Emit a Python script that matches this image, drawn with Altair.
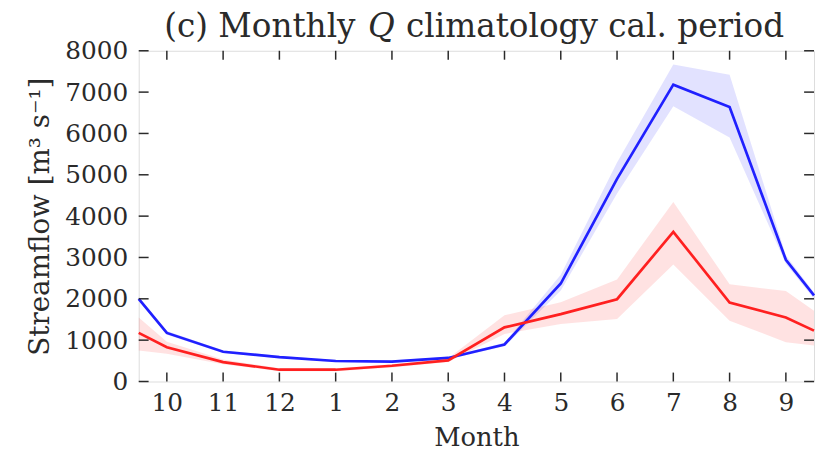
import json
import altair as alt
import pandas as pd

# ---- data ----
month_labels = ["10", "11", "12", "1", "2", "3", "4", "5", "6", "7", "8", "9"]
x_pos = [-0.5, 0, 1, 2, 3, 4, 5, 6, 7, 8, 9, 10, 11, 11.5]

blue_mean = [2000, 1175, 720, 590, 495, 480, 570, 895, 2370, 4900, 7180, 6640, 2945, 2080]
blue_low = [1960, 1130, 690, 560, 470, 455, 540, 850, 2200, 4550, 6660, 5900, 2850, 2000]
blue_high = [2050, 1220, 750, 620, 520, 505, 600, 940, 2580, 5300, 7670, 7420, 3050, 2150]

red_mean = [1175, 830, 470, 285, 285, 380, 510, 1310, 1630, 1990, 3620, 1910, 1550, 1230]
red_low = [750, 670, 420, 250, 250, 340, 470, 1150, 1390, 1510, 2830, 1470, 950, 870]
red_high = [1550, 960, 530, 320, 320, 420, 560, 1600, 1915, 2470, 4340, 2350, 2190, 1710]

y_ticks = [0, 1000, 2000, 3000, 4000, 5000, 6000, 7000, 8000]
x_ticks = list(range(12))

title_left = "(c) Monthly"
title_q = "Q"
title_right = "climatology cal. period"

W, H = 682, 334
FONT = "DejaVu Serif"
INK = "#2a2a2a"

rows = []
for name, m, lo, hi in [("blue", blue_mean, blue_low, blue_high),
                        ("red", red_mean, red_low, red_high)]:
    for x, a, b, c in zip(x_pos, m, lo, hi):
        rows.append({"x": x, "mean": a, "low": b, "high": c, "series": name})
df = pd.DataFrame(rows)

color = alt.Color("series:N", scale=alt.Scale(domain=["blue", "red"], range=["#2020ff", "#ff2020"]), legend=None)

label_expr = json.dumps(month_labels) + "[datum.value]"

xenc = alt.X("x:Q", scale=alt.Scale(domain=[-0.5, 11.5], nice=False, zero=False),
             axis=alt.Axis(values=x_ticks, labelExpr=label_expr, ticks=False, domain=False, grid=False,
                           labelPadding=9, labelFontSize=25, labelFont=FONT, labelColor=INK,
                           title="Month", titleFont=FONT, titleFontSize=26, titleFontWeight="normal",
                           titleColor=INK, titlePadding=10))
yenc_axis = alt.Axis(values=y_ticks, format="d", ticks=False, domain=False, grid=False, labelPadding=11,
                     labelFontSize=25, labelFont=FONT, labelColor=INK,
                     title="Streamflow [m³ s⁻¹]", titleFont=FONT, titleFontSize=28,
                     titleFontWeight="normal", titleColor=INK, titlePadding=10)

base = alt.Chart(df)
bands = base.mark_area(opacity=0.13).encode(
    x=xenc,
    y=alt.Y("low:Q", scale=alt.Scale(domain=[0, 8000], nice=False), axis=yenc_axis),
    y2="high:Q",
    color=color,
)
lines = base.mark_line(strokeWidth=2.7).encode(
    x="x:Q", y="mean:Q", color=color
)

ydf = pd.DataFrame({"v": y_ticks})
xdf = pd.DataFrame({"v": x_ticks})
tl = 10
left_t = alt.Chart(ydf).mark_rule(color=INK, strokeWidth=1.5).encode(
    y="v:Q", x=alt.value(0), x2=alt.value(tl))
right_t = alt.Chart(ydf).mark_rule(color=INK, strokeWidth=1.5).encode(
    y="v:Q", x=alt.value(W - tl), x2=alt.value(W))
bot_t = alt.Chart(xdf).mark_rule(color=INK, strokeWidth=1.5).encode(
    x="v:Q", y=alt.value(H - 9), y2=alt.value(H))
top_t = alt.Chart(xdf).mark_rule(color=INK, strokeWidth=1.5).encode(
    x="v:Q", y=alt.value(0), y2=alt.value(9))

TFS = 33
t1 = alt.Chart(pd.DataFrame({"t": [title_left]})).mark_text(
    font=FONT, fontSize=TFS, align="right", baseline="alphabetic",
    color=INK).encode(text="t:N", x=alt.value(219), y=alt.value(-14))
t2 = alt.Chart(pd.DataFrame({"t": [title_q]})).mark_text(
    font=FONT, fontSize=TFS, fontStyle="italic", align="center", baseline="alphabetic",
    color=INK).encode(text="t:N", x=alt.value(245), y=alt.value(-14))
t3 = alt.Chart(pd.DataFrame({"t": [title_right]})).mark_text(
    font=FONT, fontSize=TFS, align="left", baseline="alphabetic",
    color=INK).encode(text="t:N", x=alt.value(270), y=alt.value(-14))

chart = alt.layer(bands, lines, left_t, right_t, bot_t, top_t, t1, t2, t3).properties(
    width=W, height=H,
    autosize=alt.AutoSizeParams(type="none"),
    padding={"left": 132, "top": 41, "right": 1, "bottom": 68},
).configure_view(stroke=INK, strokeWidth=2).configure(background="white")

chart.save("out.html", embed_options={"renderer": "svg", "actions": False})
